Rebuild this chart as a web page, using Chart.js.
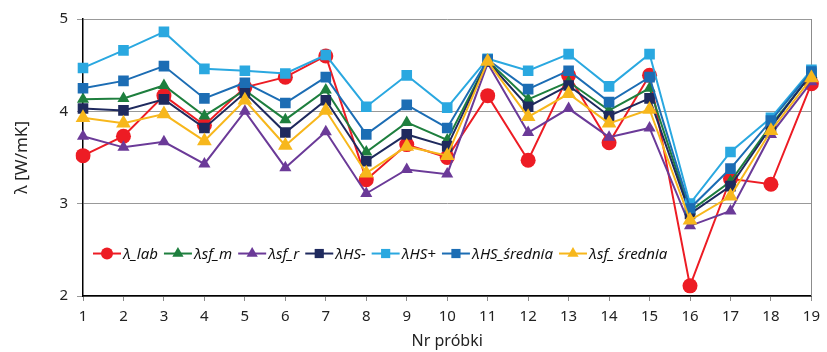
<!DOCTYPE html>
<html>
<head>
<meta charset="utf-8">
<script src="https://cdn.jsdelivr.net/npm/chart.js@4/dist/chart.umd.min.js"></script>
<style>
  html, body { margin: 0; padding: 0; background: #fff; }
  #wrap { width: 827px; height: 352px; }
</style>
</head>
<body>
<div id="wrap"><canvas id="chart" width="827" height="352"></canvas></div>
<script>
const samples = ["1","2","3","4","5","6","7","8","9","10","11","12","13","14","15","16","17","18","19"];

const lab    = [3.52, 3.73, 4.17, 3.85, 4.26, 4.37, 4.60, 3.26, 3.64, 3.50, 4.17, 3.47, 4.39, 3.66, 4.39, 2.11, 3.27, 3.21, 4.30];
const sfM    = [4.13, 4.14, 4.28, 3.95, 4.23, 3.91, 4.23, 3.56, 3.88, 3.69, 4.55, 4.13, 4.32, 4.01, 4.25, 2.92, 3.24, 3.85, 4.40];
const sfR    = [3.73, 3.61, 3.67, 3.43, 4.00, 3.39, 3.78, 3.11, 3.37, 3.32, 4.52, 3.77, 4.03, 3.72, 3.82, 2.76, 2.92, 3.75, 4.32];
const hsMin  = [4.03, 4.01, 4.13, 3.82, 4.20, 3.77, 4.12, 3.46, 3.75, 3.62, 4.54, 4.05, 4.28, 3.95, 4.14, 2.89, 3.19, 3.83, 4.41];
const hsPlus = [4.47, 4.66, 4.86, 4.46, 4.44, 4.41, 4.61, 4.05, 4.39, 4.04, 4.57, 4.44, 4.62, 4.27, 4.62, 3.00, 3.56, 3.93, 4.45];
const hsAvg  = [4.25, 4.33, 4.49, 4.14, 4.31, 4.09, 4.37, 3.75, 4.07, 3.82, 4.56, 4.24, 4.44, 4.10, 4.37, 2.95, 3.38, 3.90, 4.43];
const sfAvg  = [3.93, 3.87, 3.97, 3.68, 4.12, 3.63, 4.01, 3.33, 3.62, 3.52, 4.54, 3.94, 4.19, 3.87, 4.02, 2.82, 3.08, 3.79, 4.36];

const seriesNames = ["λ_lab", "λsf_m", "λsf_r", "λHS-", "λHS+", "λHS_średnia", "λsf_ średnia"];
const seriesData = [lab, sfM, sfR, hsMin, hsPlus, hsAvg, sfAvg];
const seriesColors = ["#ED1C24", "#1E7F3E", "#6B3A98", "#1F2A5E", "#2AA8E0", "#1C6DB4", "#F7B71C"];
const seriesMarkers = ["circle", "triangle", "triangle", "rect", "rect", "rect", "triangle"];
const markerRadius = [7.5, 7, 7, 7.5, 7.5, 7.5, 8.5];

const FONT = "'Noto Sans', 'Open Sans', sans-serif";

const datasets = seriesNames.map((name, i) => ({
  label: name,
  data: seriesData[i],
  borderColor: seriesColors[i],
  backgroundColor: seriesColors[i],
  pointBackgroundColor: seriesColors[i],
  pointBorderColor: seriesColors[i],
  pointStyle: seriesMarkers[i],
  pointRadius: markerRadius[i],
  pointBorderWidth: 0,
  borderWidth: 2,
  tension: 0,
  fill: false,
  order: seriesNames.length - i, // later series on top, like the original
}));

// gray frame on the right side of the plot
const frame = {
  id: "frame",
  beforeDatasetsDraw(chart) {
    const { ctx, chartArea } = chart;
    ctx.save();
    ctx.strokeStyle = "#8c8c8c";
    ctx.lineWidth = 1;
    ctx.beginPath();
    ctx.moveTo(Math.round(chartArea.right) + 0.5, chartArea.top);
    ctx.lineTo(Math.round(chartArea.right) + 0.5, chartArea.bottom);
    ctx.stroke();
    ctx.restore();
  },
};

// legend drawn inside the plot area, one row, line + marker + italic text
const innerLegend = {
  id: "innerLegend",
  afterDatasetsDraw(chart) {
    const { ctx, chartArea } = chart;
    const y = chart.scales.y.getPixelForValue(2.46);
    let x = chartArea.left + 10;
    ctx.save();
    ctx.font = "italic 15px " + FONT;
    ctx.textBaseline = "middle";
    seriesNames.forEach((name, i) => {
      ctx.strokeStyle = seriesColors[i];
      ctx.fillStyle = seriesColors[i];
      ctx.lineWidth = 2;
      ctx.beginPath();
      ctx.moveTo(x, y);
      ctx.lineTo(x + 28, y);
      ctx.stroke();
      Chart.helpers.drawPoint(ctx, {
        pointStyle: seriesMarkers[i],
        radius: seriesMarkers[i] === "circle" ? 6 : 6.5,
        borderWidth: 0,
        rotation: 0,
      }, x + 14, y);
      ctx.fillStyle = "#111";
      ctx.fillText(name, x + 30, y + 1);
      x += 30 + ctx.measureText(name).width + 6;
    });
    ctx.restore();
  },
};

const ctx = document.getElementById("chart").getContext("2d");
new Chart(ctx, {
  type: "line",
  data: { labels: samples, datasets: datasets },
  plugins: [frame, innerLegend],
  options: {
    responsive: false,
    animation: false,
    layout: { padding: { left: 0, right: 10, top: 19, bottom: 0 } },
    plugins: {
      legend: { display: false },
      tooltip: { enabled: false },
    },
    scales: {
      x: {
        type: "category",
        offset: false,
        afterFit(scale) { scale.height = 56; },
        grid: { drawOnChartArea: false, drawTicks: true, tickLength: 5, color: "#8c8c8c" },
        border: { color: "#000", width: 1.5 },
        ticks: { color: "#222", font: { family: FONT, size: 15 }, padding: 7, maxRotation: 0, autoSkip: false },
        title: { display: true, text: "Nr próbki", color: "#222", font: { family: FONT, size: 16 }, padding: { top: 0, bottom: 1 } },
      },
      y: {
        min: 2,
        max: 5,
        afterFit(scale) { scale.width = 83; },
        grid: { color: "#999", lineWidth: 1, drawTicks: true, tickLength: 6 },
        border: { color: "#000", width: 1.5 },
        ticks: { stepSize: 1, color: "#222", font: { family: FONT, size: 15 }, padding: 9 },
        title: { display: true, text: "λ [W/mK]", color: "#222", font: { family: FONT, size: 17 }, padding: { top: 12, bottom: 0 } },
      },
    },
  },
});
</script>
</body>
</html>
